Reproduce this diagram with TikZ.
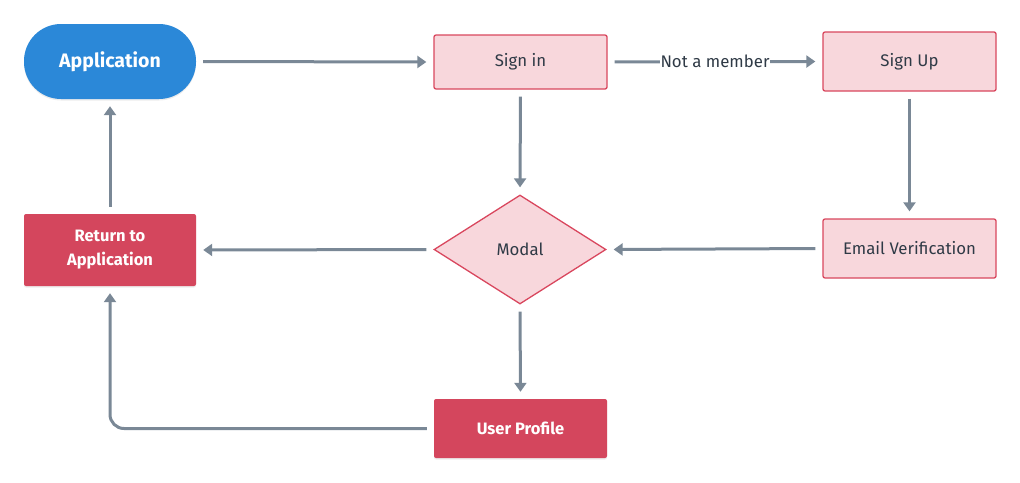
\documentclass[tikz,border=0pt]{standalone}
\usepackage{fontspec}
\setmainfont{Fira Sans}
\usetikzlibrary{arrows.meta,shapes.geometric,shadows}
\definecolor{appblue}{HTML}{2B88D8}
\definecolor{pinkfill}{HTML}{F8D7DC}
\definecolor{pinkline}{HTML}{D9475E}
\definecolor{darkred}{HTML}{D4465D}
\definecolor{arrowgray}{HTML}{7A8896}
\definecolor{textgray}{HTML}{2F3A46}
\tikzset{
  lightbox/.style={draw=pinkline, fill=pinkfill, line width=1.3pt, rounded corners=2pt,
    minimum width=173pt, text=textgray, font=\fontsize{16.8}{20}\selectfont, inner sep=0pt},
  darkbox/.style={fill=darkred, rounded corners=2pt, minimum width=172pt, text=white,
    font=\bfseries\fontsize{16.5}{24}\selectfont, inner sep=0pt, align=center,
    drop shadow={shadow xshift=0pt, shadow yshift=-1.5pt, opacity=0.15}},
  flow/.style={draw=arrowgray, line width=3pt, -{Triangle[length=9pt,width=12pt]},
    shorten <=7pt, shorten >=7pt},
}
\begin{document}
\begin{tikzpicture}[x=1pt,y=-1pt]
\useasboundingbox (0,0) rectangle (1020,482);
\node[fill=appblue, rounded corners=37pt, minimum width=172pt, minimum height=75pt,
  text=white, font=\bfseries\fontsize{19.5}{22}\selectfont, inner sep=0pt,
  drop shadow={shadow xshift=0pt, shadow yshift=-1.5pt, opacity=0.15}] (app) at (110,61.5) {Application};
\node[lightbox, minimum height=54pt] (signin) at (520.5,62) {Sign in};
\node[lightbox, minimum height=59pt] (signup) at (909.5,61.5) {Sign Up};
\node[diamond, draw=pinkline, fill=pinkfill, line width=1.3pt, minimum width=172pt,
  minimum height=109pt, aspect=1.58, inner sep=0pt, text=textgray,
  font=\fontsize{16.8}{20}\selectfont] (modal) at (520,249.5) {Modal};
\node[lightbox, minimum height=59pt] (email) at (909.5,248.5) {Email Verification};
\node[darkbox, minimum height=72pt] (ret) at (110,250) {Return to\\Application};
\node[darkbox, minimum height=59pt, minimum width=173pt] (user) at (520.5,428.5) {User Profile};

\draw[flow] (app.east) -- (signin.west);
\draw[flow] (signin.east) -- node[fill=white, inner sep=1pt, text=textgray,
  font=\fontsize{16.8}{20}\selectfont] (lbl) {Not a member} (signup.west);
\draw[flow] (signin.south) -- (modal.north);
\draw[flow] (signup.south) -- (email.north);
\draw[flow] (email.west) -- (modal.east);
\draw[flow] (modal.west) -- (ret.east);
\draw[flow] (ret.north) -- (app.south);
\draw[flow] (modal.south) -- (user.north);
\draw[flow, rounded corners=14pt] (user.west) -| (ret.south);
\end{tikzpicture}
\end{document}
